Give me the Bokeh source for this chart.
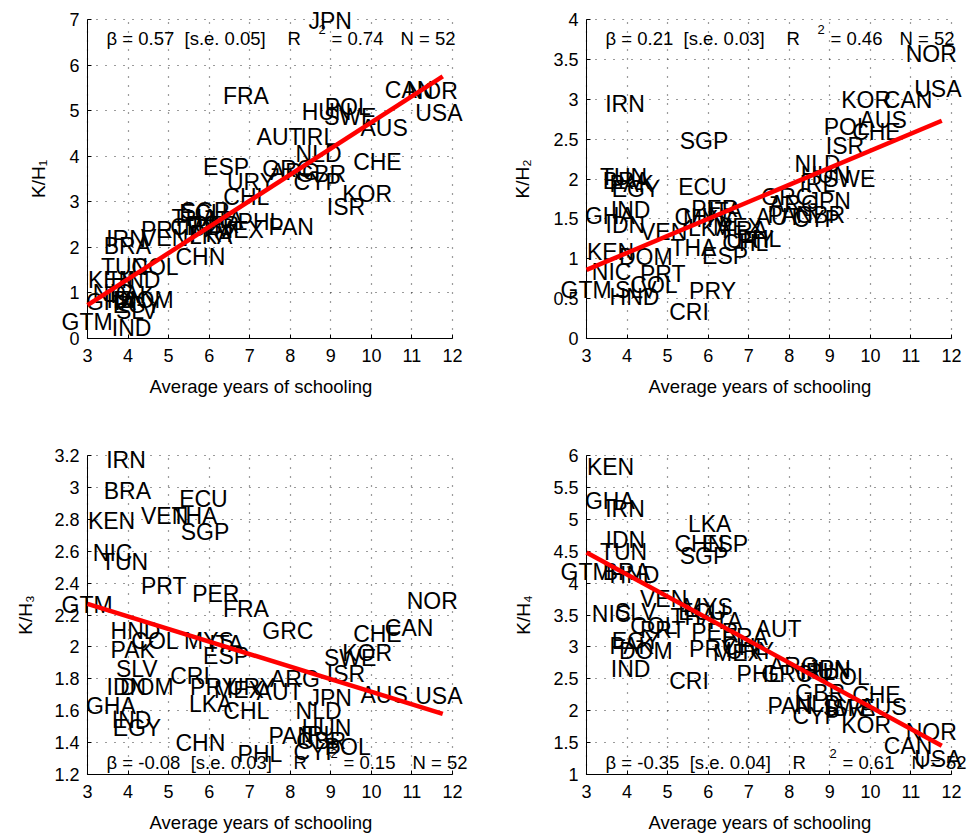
import math
from bokeh.plotting import figure
from bokeh.layouts import gridplot
from bokeh.models import (ColumnDataSource, LabelSet, Label, FixedTicker,
                          CustomJSTickFormatter, Range1d)
from bokeh.core.properties import value
from bokeh.embed import file_html
from bokeh.resources import INLINE

# ---------------- data ----------------
countries = ["ARG", "AUS", "AUT", "BRA", "CAN", "CHE", "CHL", "CHN", "COL", "CRI",
             "CYP", "DOM", "ECU", "EGY", "ESP", "FRA", "GBR", "GHA", "GRC", "GTM",
             "HND", "HUN", "IDN", "IND", "IRL", "IRN", "ISR", "ITA", "JPN", "KEN",
             "KOR", "LKA", "MEX", "MYS", "NIC", "NLD", "NOR", "PAK", "PAN", "PER",
             "PHL", "POL", "PRT", "PRY", "SGP", "SLV", "SWE", "THA", "TUN", "URY",
             "USA", "VEN"]

schooling = [7.50, 9.73, 7.17, 3.40, 10.33, 9.55, 6.35, 5.17, 4.08, 5.04,
             8.08, 3.80, 5.26, 3.62, 5.85, 6.34, 8.15, 2.96, 7.31, 2.36,
             3.57, 8.28, 3.47, 3.60, 8.25, 3.46, 8.90, 6.00, 8.45, 3.01,
             9.28, 5.50, 6.12, 5.38, 3.13, 8.13, 10.87, 3.57, 7.46, 5.58,
             6.70, 8.85, 4.32, 5.53, 5.30, 3.70, 8.83, 5.07, 3.33, 6.44,
             11.08, 4.32]

kh1 = [3.66, 4.61, 4.43, 2.03, 5.45, 3.88, 3.11, 1.79, 1.57, 2.45,
       3.44, 0.84, 2.75, 0.73, 3.77, 5.32, 3.60, 0.80, 3.72, 0.37,
       1.28, 4.96, 0.85, 0.22, 4.43, 2.19, 2.89, 2.60, 6.97, 1.28,
       3.18, 2.25, 2.38, 2.45, 0.99, 4.05, 5.43, 0.95, 2.45, 2.50,
       2.55, 5.07, 2.38, 2.30, 2.80, 0.60, 4.86, 2.65, 1.57, 3.44,
       4.94, 2.20]

kh2 = [1.69, 2.74, 1.52, 1.97, 2.99, 2.59, 1.20, 1.52, 0.67, 0.33,
       1.50, 1.02, 1.90, 1.88, 1.04, 1.36, 1.55, 1.53, 1.77, 0.61,
       0.52, 2.05, 1.42, 1.61, 1.94, 2.94, 2.42, 1.60, 1.72, 1.09,
       2.99, 1.38, 1.40, 1.50, 0.84, 2.19, 3.57, 1.94, 1.55, 1.63,
       1.25, 2.65, 0.81, 0.60, 2.48, 0.61, 2.00, 1.13, 2.02, 1.23,
       3.13, 1.34]

kh3 = [1.80, 1.70, 1.72, 2.98, 2.12, 2.08, 1.60, 1.40, 2.04, 1.82,
       1.34, 1.75, 2.93, 1.49, 1.94, 2.24, 1.41, 1.63, 2.10, 2.26,
       2.10, 1.49, 1.75, 1.54, 1.45, 3.17, 1.83, 2.02, 1.68, 2.79,
       1.96, 1.64, 1.73, 2.04, 2.59, 1.60, 2.29, 1.98, 1.44, 2.33,
       1.33, 1.37, 2.38, 1.75, 2.72, 1.86, 1.93, 2.82, 2.53, 1.75,
       1.69, 2.82]

kh4 = [2.70, 2.06, 3.28, 4.17, 1.45, 2.24, 3.00, 4.62, 3.33, 2.47,
       1.92, 2.94, 3.55, 3.10, 4.62, 3.15, 2.28, 5.29, 2.58, 4.17,
       4.12, 2.62, 4.67, 2.66, 2.60, 5.16, 2.05, 3.41, 2.65, 5.82,
       1.77, 4.93, 2.90, 3.62, 3.52, 2.10, 1.66, 3.02, 2.08, 3.23,
       2.58, 2.53, 3.26, 2.97, 4.43, 3.54, 2.05, 3.47, 4.48, 2.94,
       1.25, 3.75]

# fitted regression lines (endpoints)
fit_x = [3.0, 11.76]
fit1 = [0.73, 5.75]
fit2 = [0.86, 2.73]
fit3 = [2.27, 1.58]
fit4 = [4.48, 1.45]

# stats text
NB = "\u00a0"
beta_txt = ["\u03b2 = 0.57" + NB * 2 + "[s.e. 0.05]", "\u03b2 = 0.21" + NB * 2 + "[s.e. 0.03]",
            "\u03b2 = -0.08" + NB * 2 + "[s.e. 0.03]", "\u03b2 = -0.35" + NB * 2 + "[s.e. 0.04]"]
r2_txt = ["= 0.74", "= 0.46", "= 0.15", "= 0.61"]
n_txt = ["N = 52", "N = 52", "N = 52", "N = 52"]

x_ticks = [3, 4, 5, 6, 7, 8, 9, 10, 11, 12]
y_ticks1 = [0, 1, 2, 3, 4, 5, 6, 7]
y_ticks2 = [0, 0.5, 1, 1.5, 2, 2.5, 3, 3.5, 4]
y_ticks3 = [1.2, 1.4, 1.6, 1.8, 2, 2.2, 2.4, 2.6, 2.8, 3, 3.2]
y_ticks4 = [1, 1.5, 2, 2.5, 3, 3.5, 4, 4.5, 5, 5.5, 6]

y_labels = ["K/H\u2081", "K/H\u2082", "K/H\u2083", "K/H\u2084"]
x_label = "Average years of schooling"

FONT = "Liberation Sans"

FIG_W = 484
BOX_W = 365
BOX_H = 319


def make_panel(yvals, yticks, fit_y, ylabel, btxt, rtxt, ntxt,
               fig_h, box_left, box_top, stats_px, wide, ylab_off):
    xmin, xmax = x_ticks[0], x_ticks[-1]
    ymin, ymax = yticks[0], yticks[-1]
    kx = BOX_W / (xmax - xmin)          # px per x unit
    ky = BOX_H / (ymax - ymin)          # px per y unit
    box_bottom = box_top + BOX_H
    x_range = Range1d(xmin - box_left / kx, xmax + (FIG_W - box_left - BOX_W) / kx)
    y_range = Range1d(ymin - (fig_h - box_bottom) / ky, ymax + box_top / ky)

    p = figure(width=FIG_W, height=fig_h, output_backend="svg", toolbar_location=None,
               x_range=x_range, y_range=y_range, min_border=0,
               min_border_left=0, min_border_right=0, min_border_top=0,
               min_border_bottom=0)
    p.outline_line_color = None
    p.background_fill_color = "white"
    p.border_fill_color = "white"

    # axes drawn at the box edges
    p.xaxis.ticker = FixedTicker(ticks=x_ticks)
    p.yaxis.ticker = FixedTicker(ticks=yticks)
    p.yaxis.formatter = CustomJSTickFormatter(code="return String(Math.round(tick*10)/10);")
    p.xaxis.formatter = CustomJSTickFormatter(code="return String(Math.round(tick));")
    p.xaxis.fixed_location = ymin
    p.yaxis.fixed_location = xmin
    p.xaxis.bounds = (xmin, xmax)
    p.yaxis.bounds = (ymin, ymax)
    for ax in (p.xaxis[0], p.yaxis[0]):
        ax.major_tick_in = 4
        ax.major_tick_out = 0
        ax.minor_tick_in = 0
        ax.minor_tick_out = 0
        ax.axis_line_color = "black"
        ax.axis_line_width = 1
        ax.major_tick_line_color = "black"
        ax.major_label_text_font = FONT
        ax.major_label_text_font_size = "18px"
        ax.major_label_text_color = "black"
    p.xaxis.major_label_standoff = 10
    p.yaxis.major_label_standoff = 8

    # dotted grid restricted to the box
    gx, gy = p.xgrid[0], p.ygrid[0]
    for g in (gx, gy):
        g.grid_line_color = "#222222"
        g.grid_line_dash = "1 8"
        g.grid_line_width = 1.2
        g.grid_line_alpha = 0.9
    gx.ticker = FixedTicker(ticks=x_ticks)
    gy.ticker = FixedTicker(ticks=yticks)
    gx.bounds = (xmin, xmax)
    gy.bounds = (ymin, ymax)
    try:
        gx.cross_bounds = (ymin, ymax)
        gy.cross_bounds = (xmin, xmax)
    except Exception:
        gx.visible = False
        gy.visible = False
        p.segment(x0=x_ticks, y0=[ymin] * len(x_ticks), x1=x_ticks, y1=[ymax] * len(x_ticks),
                  line_color="#222222", line_dash="1 8", line_width=1.2, level="underlay")
        p.segment(x0=[xmin] * len(yticks), y0=yticks, x1=[xmax] * len(yticks), y1=yticks,
                  line_color="#222222", line_dash="1 8", line_width=1.2, level="underlay")

    # axis titles
    p.add_layout(Label(x=(xmin + xmax) / 2, y=ymin, y_offset=-48, x_offset=-9, text=x_label,
                       text_font=FONT, text_font_size="18.5px", text_color="black",
                       text_align="center", text_baseline="middle"))
    p.add_layout(Label(x=xmin, y=(ymin + ymax) / 2, x_offset=-ylab_off, text=ylabel,
                       angle=math.pi / 2, text_font=FONT, text_font_size="19px",
                       text_color="black", text_align="center", text_baseline="middle"))

    # country labels
    xs, ys, cs = [], [], []
    for c, xv, yv in zip(countries, schooling, yvals):
        if yv is None:
            continue
        xs.append(xv)
        ys.append(yv)
        cs.append(c)
    src = ColumnDataSource(data=dict(x=xs, y=ys, code=cs))
    labels = LabelSet(x="x", y="y", text="code", source=src,
                      text_font=value(FONT), text_font_size=value("23px"),
                      text_color=value("black"),
                      text_align="left", text_baseline="middle")
    p.add_layout(labels)

    # regression line on top
    p.line(fit_x, fit_y, line_color="#ff0000", line_width=4.5, level="overlay")

    # stats text
    stats_y = ymax - (stats_px - box_top) / ky if stats_px < 200 else ymin + (box_bottom - stats_px) / ky
    off_b = 19
    off_r = 206 if wide else 200
    off_2 = 243 if wide else 231
    off_e = 256 if wide else 244
    off_n = 325 if wide else 313
    common = dict(text_font=FONT, text_font_size="18.5px", text_color="black",
                  text_baseline="middle", text_align="left", y=stats_y, x=xmin)
    p.add_layout(Label(text=btxt, x_offset=off_b, **common))
    p.add_layout(Label(text="R", x_offset=off_r, **common))
    p.add_layout(Label(text=rtxt, x_offset=off_e, **common))
    p.add_layout(Label(text=ntxt, x_offset=off_n, **common))
    p.add_layout(Label(text="2", x_offset=off_2, y_offset=9, x=xmin, y=stats_y,
                       text_font=FONT, text_font_size="13px", text_color="black",
                       text_baseline="middle", text_align="left"))
    return p


p1 = make_panel(kh1, y_ticks1, fit1, y_labels[0], beta_txt[0], r2_txt[0], n_txt[0],
                420, 87, 19, 38, False, 49)
p2 = make_panel(kh2, y_ticks2, fit2, y_labels[1], beta_txt[1], r2_txt[1], n_txt[1],
                420, 102, 19, 38, False, 64)
p3 = make_panel(kh3, y_ticks3, fit3, y_labels[2], beta_txt[2], r2_txt[2], n_txt[2],
                417, 87, 35, 341.7, True, 62)
p4 = make_panel(kh4, y_ticks4, fit4, y_labels[3], beta_txt[3], r2_txt[3], n_txt[3],
                417, 102, 35, 341.7, True, 63)

grid = gridplot([[p1, p2], [p3, p4]], toolbar_location=None)

open("out.html", "w").write(file_html(grid, INLINE))
